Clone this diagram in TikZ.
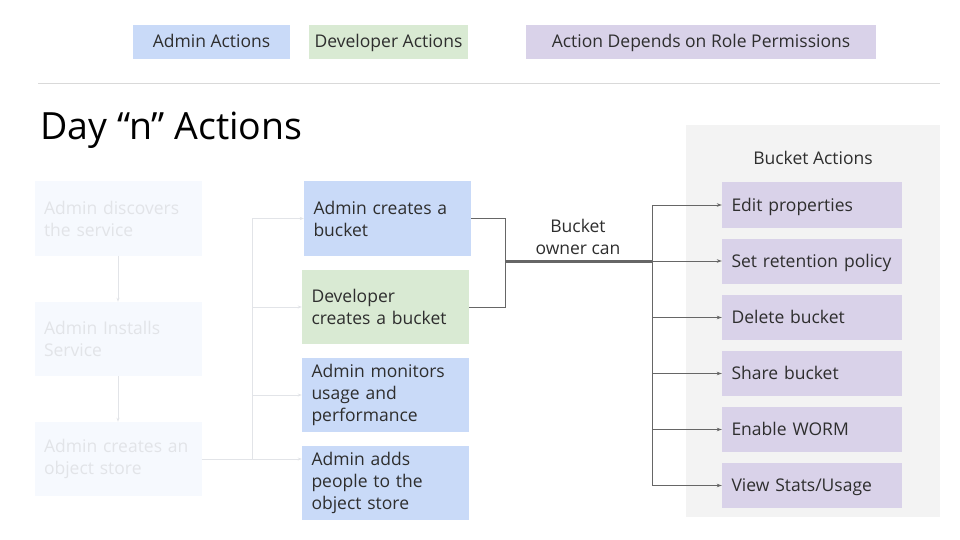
\documentclass[tikz,border=0pt]{standalone}
\usepackage{fontspec}
\setmainfont{Open Sans}
\usetikzlibrary{arrows.meta}
\definecolor{adminblue}{HTML}{C9DAF8}
\definecolor{devgreen}{HTML}{D9EAD3}
\definecolor{rolepurple}{HTML}{D9D2E9}
\definecolor{panelgray}{HTML}{F3F3F3}
\definecolor{fadefill}{HTML}{F6F9FE}
\definecolor{fadetext}{HTML}{E2E4E8}
\definecolor{linegray}{HTML}{666666}

\begin{document}
\begin{tikzpicture}[x=1pt, y=-1pt]
	\tikzstyle{every node} = [font=\fontsize{17.5}{22}\selectfont, inner sep=0pt, text=black!82]
	\tikzstyle{legend} = [minimum height=34pt, text height=13pt, text depth=1pt]
	\tikzstyle{stepbox} = [minimum height=74pt, text width=148pt, inner xsep=9.5pt, align=left]
	\tikzstyle{fadebox} = [stepbox, fill=fadefill, text=fadetext]
	\tikzstyle{actbox} = [fill=rolepurple, minimum height=45pt, text height=13pt, text depth=1pt, text width=161pt, inner xsep=9.5pt, align=left]
	\tikzstyle{fadeline} = [draw=fadetext, line width=1pt, -{Stealth[length=4pt, width=3pt]}]
	\tikzstyle{darkline} = [draw=linegray, line width=1pt]
	\tikzstyle{darkarrow} = [darkline, -{Stealth[length=5pt, width=3.5pt]}]
	\useasboundingbox (0,0) rectangle (960,540);
	% legend
	\node[legend, fill=adminblue, minimum width=157pt] (L1) at (211.5, 42) {Admin Actions};
	\node[legend, fill=devgreen, minimum width=159pt] (L2) at (388.5, 42) {Developer Actions};
	\node[legend, fill=rolepurple, minimum width=350pt] (L3) at (701, 42) {Action Depends on Role Permissions};
	\draw[black!15, line width=1pt] (38, 84) -- (940, 84);
	\node[anchor=west, font=\fontsize{37.5}{40}\selectfont, text=black] (title) at (40, 130) {Day “n” Actions};
	% bucket panel
	\fill[panelgray] (686, 125) rectangle (940, 517);
	\node (panel) at (813, 158) {Bucket Actions};
	% day 1 steps
	\node[fadebox] (S1) at (118, 218.5) {Admin discovers\\the service};
	\node[fadebox] (S2) at (118, 339) {Admin Installs\\Service};
	\node[fadebox] (S3) at (118, 459) {Admin creates an\\object store};
	% day n steps
	\node[stepbox, fill=adminblue] (A1) at (387.5, 218.5) {Admin creates a\\bucket};
	\node[stepbox, fill=devgreen] (D1) at (385.5, 307) {Developer\\creates a bucket};
	\node[stepbox, fill=adminblue] (A2) at (385.5, 395) {Admin monitors\\usage and\\performance};
	\node[stepbox, fill=adminblue] (A3) at (385.5, 483) {Admin adds\\people to the\\object store};
	% bucket actions
	\node[actbox] (E1) at (812, 205) {Edit properties};
	\node[actbox] (E2) at (812, 261) {Set retention policy};
	\node[actbox] (E3) at (812, 317.5) {Delete bucket};
	\node[actbox] (E4) at (812, 373.5) {Share bucket};
	\node[actbox] (E5) at (812, 429.5) {Enable WORM};
	\node[actbox] (E6) at (812, 485.5) {View Stats/Usage};
	\node[align=center] (owner) at (578, 237) {Bucket\\owner can};
	\coordinate (J1) at (252, 459);
	\coordinate (B1) at (505, 261);
	\coordinate (B2) at (652, 261);
	\draw [fadeline] (S1)--(S2);
	\draw [fadeline] (S2)--(S3);
	\draw [fadeline] (S3)--(S3 -| A3.west);
	\draw [fadeline] (J1) |- (A1);
	\draw [fadeline] (J1) |- (D1);
	\draw [fadeline] (J1) |- (A2);
	\draw [darkline] (A1.east) -| (B1);
	\draw [darkline] (D1.east) -| (B1);
	\draw [darkline, line width=3pt] (B1)--(B2);
	\draw [darkarrow] (B2) |- (E1);
	\draw [darkarrow] (B2)--(E2);
	\draw [darkarrow] (B2) |- (E3);
	\draw [darkarrow] (B2) |- (E4);
	\draw [darkarrow] (B2) |- (E5);
	\draw [darkarrow] (B2) |- (E6);
\end{tikzpicture}
\end{document}
